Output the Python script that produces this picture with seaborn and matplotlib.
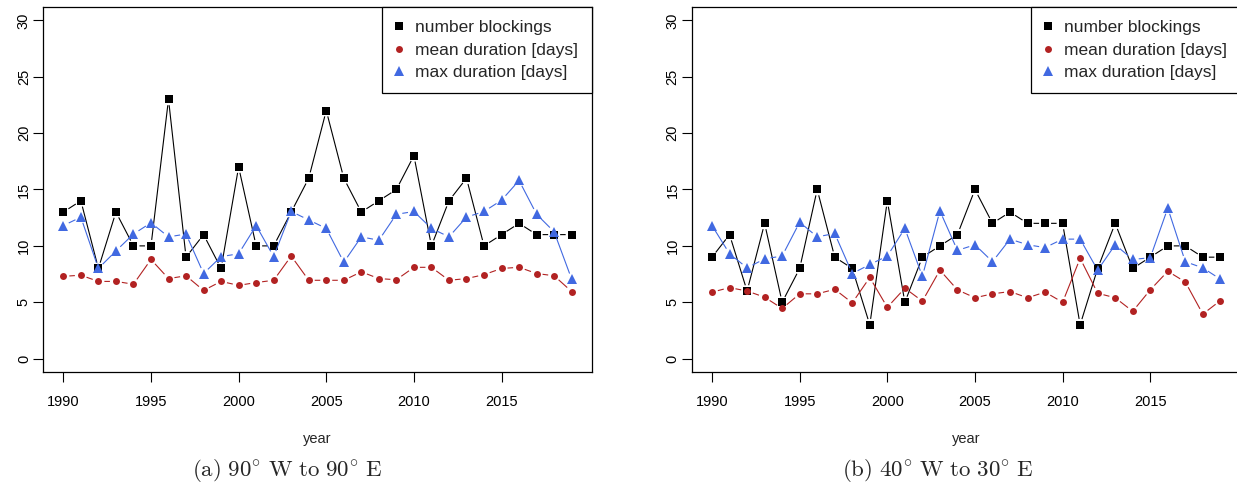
import numpy as np
import pandas as pd
import matplotlib
matplotlib.use("Agg")
import matplotlib.pyplot as plt
from matplotlib.lines import Line2D
import seaborn as sns

years = list(range(1990, 2020))

# Panel (a): 90 W to 90 E
a_number = [13, 14, 8, 13, 10, 10, 23, 9, 11, 8, 17, 10, 10, 13, 16,
            22, 16, 13, 14, 15, 18, 10, 14, 16, 10, 11, 12, 11, 11, 11]
a_mean = [7.3, 7.4, 6.85, 6.85, 6.6, 8.8, 7.1, 7.35, 6.05, 6.85, 6.5, 6.75, 6.95, 9.1, 6.95,
          6.95, 6.95, 7.7, 7.1, 7.0, 8.1, 8.1, 6.95, 7.1, 7.45, 8.0, 8.1, 7.55, 7.35, 5.95]
a_max = [11.8, 12.55, 8.0, 9.55, 11.05, 12.05, 10.8, 11.05, 7.55, 9.05, 9.3, 11.8, 9.05, 13.05, 12.3,
         11.55, 8.55, 10.8, 10.5, 12.8, 13.05, 11.55, 10.8, 12.55, 13.05, 14.05, 15.8, 12.8, 11.25, 7.05]

# Panel (b): 40 W to 30 E
b_number = [9, 11, 6, 12, 5, 8, 15, 9, 8, 3, 14, 5, 9, 10, 11,
            15, 12, 13, 12, 12, 12, 3, 8, 12, 8, 9, 10, 10, 9, 9]
b_mean = [5.9, 6.3, 6.0, 5.45, 4.45, 5.75, 5.75, 6.15, 4.95, 7.2, 4.55, 6.25, 5.1, 7.85, 6.1,
          5.4, 5.75, 5.95, 5.4, 5.9, 5.0, 8.9, 5.8, 5.4, 4.2, 6.1, 7.75, 6.8, 3.95, 5.15]
b_max = [11.8, 9.3, 8.05, 8.85, 9.1, 12.1, 10.8, 11.1, 7.55, 8.35, 9.1, 11.55, 7.3, 13.1, 9.6,
         10.1, 8.6, 10.6, 10.1, 9.85, 10.6, 10.6, 7.85, 10.1, 8.8, 8.95, 13.35, 8.6, 8.05, 7.05]

series_labels = ["number blockings", "mean duration [days]", "max duration [days]"]
series_colors = ["black", "#B22222", "#4169E1"]
series_markers = ["s", "o", "^"]
series_msize = [5.5, 5.0, 6.5]

y_ticks = [0, 5, 10, 15, 20, 25, 30]
x_ticks = [1990, 1995, 2000, 2005, 2010, 2015]
captions = [r"$\mathrm{(a)\ 90^{\circ}\ W\ to\ 90^{\circ}\ E}$",
            r"$\mathrm{(b)\ 40^{\circ}\ W\ to\ 30^{\circ}\ E}$"]

sns.set_style("ticks")
plt.rcParams["font.family"] = ["Liberation Sans", "DejaVu Sans"]
plt.rcParams["mathtext.fontset"] = "cm"

W, H = 1237, 487
fig = plt.figure(figsize=(W / 100, H / 100), dpi=100)

def px_axes(x0, y0, x1, y1):
    return fig.add_axes([x0 / W, 1 - y1 / H, (x1 - x0) / W, (y1 - y0) / H])

def gapped_line(ax, xs, ys, color, gap_px=6.0, lw=0.8):
    """R type='b' style: segments stop short of each point."""
    pts = ax.transData.transform(np.column_stack([xs, ys]))
    inv = ax.transData.inverted()
    segx, segy = [], []
    for p0, p1 in zip(pts[:-1], pts[1:]):
        d = p1 - p0
        L = np.hypot(*d)
        if L <= 2 * gap_px:
            continue
        u = d / L
        q0 = inv.transform(p0 + u * gap_px)
        q1 = inv.transform(p1 - u * gap_px)
        segx += [q0[0], q1[0], np.nan]
        segy += [q0[1], q1[1], np.nan]
    ax.plot(segx, segy, color=color, linewidth=lw, solid_capstyle="butt")

axes = [px_axes(43.0, 6.8, 592.0, 372.2), px_axes(691.7, 6.8, 1240.7, 372.2)]
panels = [(a_number, a_mean, a_max), (b_number, b_mean, b_max)]
cap_x = [287, 938]

for ax, data, cap, cx in zip(axes, panels, captions, cap_x):
    ax.set_xlim(1988.84, 2020.16)
    ax.set_ylim(-1.2, 31.2)
    df = pd.DataFrame({"year": years, "number": data[0], "mean": data[1], "max": data[2]})
    for col, color, mk, ms in zip(["number", "mean", "max"], series_colors, series_markers, series_msize):
        gapped_line(ax, df["year"].to_numpy(float), df[col].to_numpy(float), color)
        sns.lineplot(data=df, x="year", y=col, ax=ax, color=color, linestyle="",
                     marker=mk, markersize=ms, markeredgewidth=0, markeredgecolor=color,
                     markerfacecolor=color, legend=False)
    ax.set_xlim(1988.84, 2020.16)
    ax.set_ylim(-1.2, 31.2)
    ax.set_xticks(x_ticks)
    ax.set_yticks(y_ticks)
    ax.set_xticklabels([str(t) for t in x_ticks])
    ax.set_yticklabels([str(t) for t in y_ticks])
    ax.tick_params(axis="both", direction="out", length=7.2, width=0.8, color="black",
                   labelsize=10.5, labelcolor="black")
    ax.tick_params(axis="x", pad=9)
    ax.tick_params(axis="y", pad=1.5)
    for lab in ax.get_yticklabels():
        lab.set_rotation(90)
        lab.set_va("center")
    for s in ax.spines.values():
        s.set_visible(True)
        s.set_color("black")
        s.set_linewidth(0.9)
    ax.set_xlabel("year", fontsize=10.5, labelpad=17)
    ax.set_ylabel("")
    ax.set_facecolor("white")
    handles = [Line2D([], [], linestyle="none", marker=mk, color=c, markersize=ms,
                      markeredgewidth=0)
               for mk, c, ms in zip(series_markers, series_colors, series_msize)]
    leg = ax.legend(handles, series_labels, loc="upper right", fontsize=12.5,
                    frameon=True, fancybox=False, framealpha=1, edgecolor="black",
                    borderaxespad=0, borderpad=0.78, handlelength=0.35, handletextpad=0.78,
                    labelspacing=0.4)
    leg.get_frame().set_linewidth(0.9)
    fig.text(cx / W, 1 - 471 / H, cap, ha="center", va="center", fontsize=16.5)

fig.savefig("out.png", dpi=100, facecolor="white")
